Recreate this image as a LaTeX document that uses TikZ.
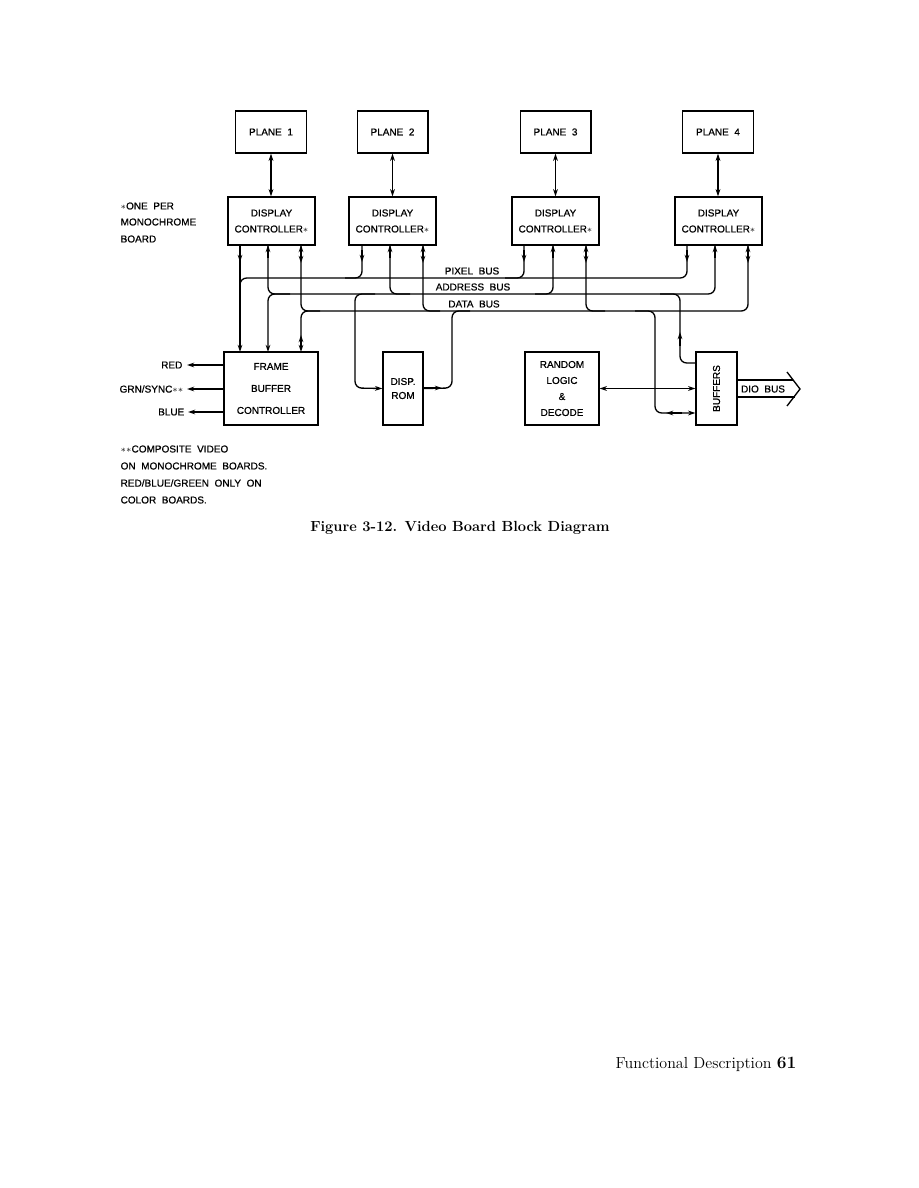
\documentclass[tikz,border=0pt]{standalone}
\usepackage{fontspec}
\newfontfamily\lbl[FakeBold=0.7]{Liberation Sans}
\usetikzlibrary{arrows.meta}
\begin{document}
\begin{tikzpicture}[x=0.75pt,y=-0.75pt,line width=1pt,
  box/.style={draw, inner sep=0pt, align=center, font=\lbl\fontsize{7.5}{12}\selectfont},
  txt/.style={inner sep=0pt, font=\lbl\fontsize{7.5}{12}\selectfont},
  tip/.style={-{Stealth[length=5.5pt,width=3.6pt]}},
  dtip/.style={{Stealth[length=5.5pt,width=3.6pt]}-{Stealth[length=5.5pt,width=3.6pt]}},
  bus/.style={rounded corners=5pt},
  plane/.style={box, minimum width=53pt, minimum height=31.5pt},
  dcbox/.style={box, minimum width=65.25pt, minimum height=36pt},
]
\useasboundingbox (0,0) rectangle (918,1188);

% planes
\node[plane] (p1) at (271,132) {PLANE~~1};
\node[plane] (p2) at (392.5,132) {PLANE~~2};
\node[plane] (p3) at (555.5,132) {PLANE~~3};
\node[plane] (p4) at (718,132) {PLANE~~4};
% display controllers
\node[dcbox] (dc1) at (271.5,221) {DISPLAY\\CONTROLLER$\ast$};
\node[dcbox] (dc2) at (392.5,221) {DISPLAY\\CONTROLLER$\ast$};
\node[dcbox] (dc3) at (555.5,221) {DISPLAY\\CONTROLLER$\ast$};
\node[dcbox] (dc4) at (718.5,221) {DISPLAY\\CONTROLLER$\ast$};
\foreach \i in {1,...,4} \draw[dtip] (p\i) -- (p\i |- dc\i.north);

% lower boxes
\node[box, minimum width=70.5pt, minimum height=54.75pt, font=\lbl\fontsize{7.5}{16.5}\selectfont] (fbc) at (271,388.5) {FRAME\\BUFFER\\CONTROLLER};
\node[box, minimum width=30pt, minimum height=54.75pt, font=\lbl\fontsize{7.5}{10.5}\selectfont] (rom) at (403,388.5) {DISP.\\ROM};
\node[box, minimum width=55.5pt, minimum height=54.75pt] (rld) at (562,388.5) {RANDOM\\LOGIC\\\&\\DECODE};
\node[box, minimum width=30.75pt, minimum height=54.75pt] (buf) at (716.5,388.5) {};
\node[txt, rotate=90] (bufl) at (buf.center) {BUFFERS};

% bus labels
\node[txt] (pixl) at (472,271) {PIXEL~~BUS};
\node[txt] (addrl) at (473,287) {ADDRESS~~BUS};
\node[txt] (datal) at (474,304) {DATA~~BUS};

% pixel bus
\draw[tip] (240,245) -- (240,352);
\draw[bus] (240,300) -- (240,278) -- (687,278) -- (687,245);
\draw[bus] (362,245) -- (362,278) -- (345,278);
\draw[bus] (524,245) -- (524,278) -- (505,278);
\foreach \x in {240,362,524,687} \draw[tip] (\x,250) -- (\x,262);

% address bus
\draw[bus] (268,245) -- (268,294) -- (715,294) -- (715,245);
\draw[bus,tip] (290,294) -- (268,294) -- (268,352);
\draw[bus] (390,245) -- (390,294) -- (410,294);
\draw[bus] (553,245) -- (553,294) -- (535,294);
\foreach \x in {268,390,553,715} \draw[tip] (\x,258) -- (\x,245);

% data bus
\draw[bus] (301,245) -- (301,311) -- (748,311) -- (748,245);
\draw[bus,tip] (320,311) -- (301,311) -- (301,352);
\draw[tip] (301,347) -- (301,335);
\draw[bus] (423,245) -- (423,311) -- (440,311);
\draw[bus] (586,245) -- (586,311) -- (605,311);
\foreach \x in {301,423,586,748} {\draw[tip] (\x,258) -- (\x,245); \draw[tip] (\x,250) -- (\x,263);}

% ROM
\draw[bus,tip] (375,294) -- (355,294) -- (355,388) -- (rom.west);
\draw[bus] (rom.east) -- (452,388) -- (452,311) -- (470,311);
\draw[tip] (424,388) -- (442,388);

% random logic to buffers
\draw[dtip] (rld.east) -- (rld.east -| buf.west);

% buffers taps
\draw[bus] (660,294) -- (680,294) -- (680,363) -- (buf.west |- 0,363);
\draw[tip] (680,346) -- (680,332);
\draw[bus,tip] (635,311) -- (655,311) -- (655,413) -- (buf.west |- 0,413);
\draw[tip] (682,413) -- (666,413);

% DIO bus arrow
\draw (buf.east |- 0,380) -- (793,380);
\draw (buf.east |- 0,397) -- (795,397);
\draw (787,372) -- (800,389) -- (787,406);
\node[txt] (dio) at (763,389) {DIO~~BUS};

% video outputs
\draw[tip] (fbc.west |- 0,365) -- (187,365);
\draw[tip] (fbc.west |- 0,389) -- (187,389);
\draw[tip] (fbc.west |- 0,412) -- (188,412);
\node[txt, anchor=east] (red) at (183,365) {RED};
\node[txt, anchor=east] (grn) at (184,389) {GRN/SYNC$\ast\ast$};
\node[txt, anchor=east] (blue) at (185,412) {BLUE};

% notes
\node[txt, anchor=west] (n1a) at (120,206) {$\ast$ONE~~PER};
\node[txt, anchor=west] (n1b) at (120,222) {MONOCHROME};
\node[txt, anchor=west] (n1c) at (120,239) {BOARD};
\node[txt, anchor=west] (n2a) at (120,449) {$\ast\ast$COMPOSITE~~VIDEO};
\node[txt, anchor=west] (n2b) at (120,466) {ON~~MONOCHROME~~BOARDS.};
\node[txt, anchor=west] (n2c) at (120,483) {RED/BLUE/GREEN~~ONLY~~ON};
\node[txt, anchor=west] (n2d) at (120,500) {COLOR~~BOARDS.};

% caption and footer
\node[inner sep=0pt, font=\bfseries\fontsize{11}{13}\selectfont] (cap) at (460,528) {Figure 3-12. Video Board Block Diagram};
\node[inner sep=0pt, anchor=east, font=\fontsize{12}{14}\selectfont] (foot) at (797,1064) {Functional Description \textbf{\fontsize{13}{14}\selectfont 61}};
\end{tikzpicture}
\end{document}
